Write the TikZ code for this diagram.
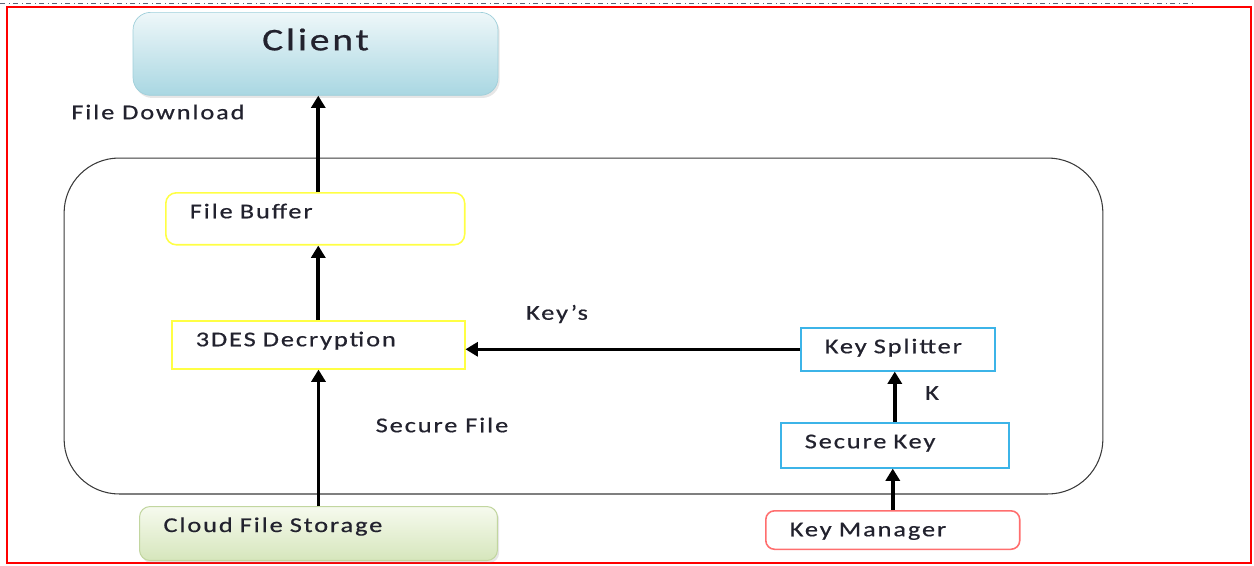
\documentclass[tikz,border=0pt]{standalone}
\usepackage{fontspec}
\setmainfont{Carlito}[FakeStretch=1.25,LetterSpace=9,FakeBold=0.6]
\usepackage{xcolor}
\usetikzlibrary{
arrows.meta,
shadows
}
\definecolor{inkgray}{HTML}{22222E}
\definecolor{edgegray}{HTML}{3A3A3A}
\definecolor{skytop}{HTML}{EEF7F9}
\definecolor{skybot}{HTML}{A9D7E2}
\definecolor{skyedge}{HTML}{9FCFDA}
\definecolor{leaftop}{HTML}{F6FAEE}
\definecolor{leafbot}{HTML}{D6E6BC}
\definecolor{leafedge}{HTML}{C2D6A0}
\definecolor{boxyellow}{HTML}{FFFF44}
\definecolor{boxblue}{HTML}{3CB4E8}
\definecolor{boxred}{HTML}{FF6E6E}
\definecolor{ruleblue}{HTML}{5A6478}

\begin{document}
\begin{tikzpicture}[x=0.02cm, y=-0.02cm,
    >={Triangle[angle=60:8pt,length=7pt]},
    font=\fontsize{12}{14}\selectfont,
    txt/.style={text=inkgray},
    base/.style={draw, anchor=north west, inner xsep=0.48cm, inner ysep=0.26cm,
      text height=0.25cm, align=left, text=inkgray, line width=0.9pt},
    proc/.style 2 args={base, text width=#1, text depth=#2},
    flow/.style={->, line width=2.1pt}]
  \useasboundingbox (0,0) rectangle (1254,565);
  \draw[ruleblue, dash dot, line width=0.5pt] (0,3) -- (1193,3);
  \draw[red, line width=1.4pt] (7,7) rectangle (1251,563);

  % the client on top
  \node[draw=skyedge, rounded corners=10pt, top color=skytop, bottom color=skybot,
    anchor=north, minimum width=7.3cm, inner ysep=0.4cm, text height=0.36cm,
    text depth=0.5cm, text=inkgray, font=\fontsize{18}{20}\selectfont,
    drop shadow={opacity=0.2, shadow xshift=1pt, shadow yshift=-1.5pt}]
    (client) at (315.5,12) {Client};
  \node[txt] (download) at (158,112) {File Download};

  % the server side
  \node[draw=edgegray, line width=0.6pt, rounded corners=1.1cm,
    minimum width=20.78cm, minimum height=6.72cm] (core) at (583.5,326) {};
  \node[proc={5.02cm}{0.27cm}, draw=boxyellow, rounded corners=6pt] (buffer) at (165,192) {File Buffer};
  \node[proc={4.9cm}{0.19cm}, draw=boxyellow] (des) at (171,320) {3DES Decryption};
  \node[proc={2.92cm}{0.09cm}, draw=boxblue] (splitter) at (800,327) {Key Splitter};
  \node[proc={3.6cm}{0.13cm}, draw=boxblue] (seckey) at (780,422) {Secure Key};

  % sources below
  \node[proc={6.2cm}{0.31cm}, draw=leafedge, rounded corners=6pt, top color=leaftop,
    bottom color=leafbot, line width=0.6pt,
    drop shadow={opacity=0.2, shadow xshift=1pt, shadow yshift=-1.5pt}]
    (cloud) at (139,506) {Cloud File Storage};
  \node[proc={4.12cm}{0cm}, draw=boxred, rounded corners=5pt] (keymgr) at (765,510) {Key Manager};

  \draw[flow] (cloud.north) -- (cloud.north |- des.south);
  \draw[flow] (des.north) -- (des.north |- buffer.south);
  \draw[flow] (buffer.north -| des.north) -- (des.north |- client.south);
  \draw[flow, line width=1.6pt] (splitter.west) -- (splitter.west -| des.east);
  \draw[flow] (seckey.north) -- (seckey.north |- splitter.south);
  \draw[flow] (keymgr.north) -- (keymgr.north |- seckey.south);

  \node[txt] (keys) at (557,314) {Key’s};
  \node[txt] (securefile) at (442,425) {Secure File};
  \node[txt] (k) at (932,393) {K};
\end{tikzpicture}
\end{document}
